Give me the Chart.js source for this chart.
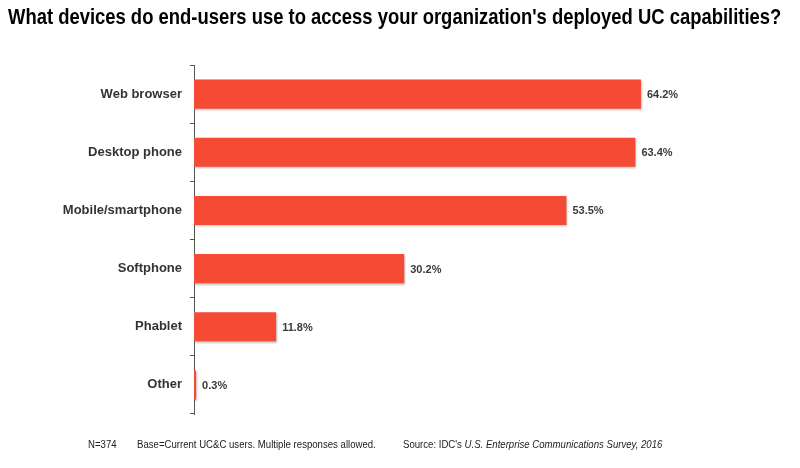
<!DOCTYPE html>
<html>
<head>
<meta charset="utf-8">
<script src="https://cdn.jsdelivr.net/npm/chart.js@4"></script>
<style>
  body { margin: 0; background: #fff; }
  #wrap { position: relative; width: 800px; height: 468px; overflow: hidden; }
  #chart { position: absolute; left: 0; top: 0; }
  #title {
    position: absolute; left: 8px; top: 4px; margin: 0;
    font: bold 22px "Liberation Sans", Arial, sans-serif; color: #000;
    white-space: nowrap; transform-origin: 0 0;
  }
  .foot {
    position: absolute; top: 439px;
    font: 10px "Liberation Sans", Arial, sans-serif; color: #222; white-space: nowrap;
    transform: scaleX(0.96); transform-origin: 0 0;
  }
</style>
</head>
<body>
<div id="wrap">
  <canvas id="chart" width="800" height="468"></canvas>
  <h1 id="title">What devices do end-users use to access your organization's deployed UC capabilities?</h1>
  <span class="foot" style="left:88px">N=374</span>
  <span class="foot" style="left:137px">Base=Current UC&amp;C users. Multiple responses allowed.</span>
  <span class="foot" style="left:403px">Source: IDC's <i>U.S. Enterprise Communications Survey, 2016</i></span>
</div>
<script>
const devices = ['Web browser', 'Desktop phone', 'Mobile/smartphone', 'Softphone', 'Phablet', 'Other'];
const shares = [64.2, 63.4, 53.5, 30.2, 11.8, 0.3];

// squeeze the title to the width it has in the original
const title = document.getElementById('title');
title.style.transform = 'scaleX(' + (773 / title.scrollWidth) + ')';

const barShadow = {
  id: 'barShadow',
  beforeDatasetDraw(chart) {
    const c = chart.ctx;
    c.save();
    c.shadowColor = 'rgba(0,0,0,0.25)';
    c.shadowOffsetX = 1;
    c.shadowOffsetY = 1.5;
    c.shadowBlur = 2;
  },
  afterDatasetDraw(chart) {
    chart.ctx.restore();
  }
};

const valueLabels = {
  id: 'valueLabels',
  afterDatasetsDraw(chart) {
    const c = chart.ctx;
    c.save();
    c.font = 'bold 11px "Liberation Sans", Arial, sans-serif';
    c.fillStyle = '#3a3a3a';
    c.textBaseline = 'middle';
    chart.getDatasetMeta(0).data.forEach((bar, i) => {
      c.fillText(shares[i].toFixed(1) + '%', bar.x + 6, bar.y + 1);
    });
    c.restore();
  }
};

const ctx = document.getElementById('chart');
new Chart(ctx, {
  type: 'bar',
  data: {
    labels: devices,
    datasets: [{
      label: '',
      data: shares,
      backgroundColor: '#f54a34',
      borderWidth: 0,
      categoryPercentage: 1,
      barPercentage: 0.5,
    }]
  },
  plugins: [barShadow, valueLabels],
  options: {
    indexAxis: 'y',
    responsive: false,
    animation: false,
    layout: {
      padding: { top: 65, bottom: 54, left: 0, right: 40 }
    },
    plugins: {
      legend: { display: false },
      tooltip: { enabled: false }
    },
    scales: {
      x: {
        display: false,
        min: 0,
        max: 81.3,
      },
      y: {
        afterFit(scale) { scale.width = 194; },
        grid: {
          drawOnChartArea: false,
          tickLength: 4,
          color: '#555',
        },
        border: {
          display: true,
          color: '#555',
        },
        ticks: {
          padding: 8,
          color: '#333',
          font: { family: '"Liberation Sans", Arial, sans-serif', size: 13, weight: 'bold' }
        }
      }
    }
  }
});
</script>
</body>
</html>
